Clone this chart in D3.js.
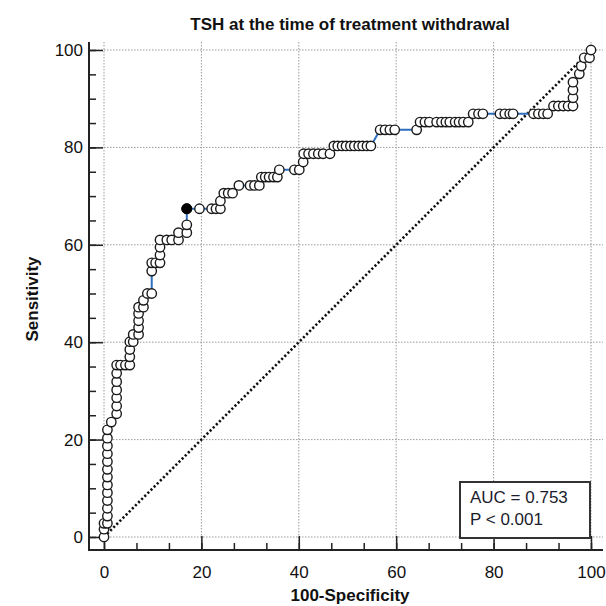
<!DOCTYPE html>
<html>
<head>
<meta charset="utf-8">
<script src="https://cdn.jsdelivr.net/npm/d3@7"></script>
<style>
	body { margin: 0; background: #fff; }
	text { font-family: 'Liberation Sans', Arial, sans-serif; }
</style>
</head>
<body>
<div class="chart"></div>
<script>
// ROC points (100-Specificity, Sensitivity)
const fpr = [0, 0, 0, 0.7, 0.7, 0.7, 0.7, 0.7, 0.7, 0.7, 0.7, 0.7, 0.7, 0.7, 0.7, 0.7,
	1.5, 2.6, 2.6, 2.6, 2.6, 2.6, 2.6, 2.6, 3.4, 4.4, 5.3, 5.3, 5.3, 5.3, 6.0, 6.0,
	7.1, 7.1, 7.1, 7.1, 7.1, 8.1, 8.1, 8.9, 9.8, 9.8, 9.8, 10.6, 11.5, 11.5, 11.5, 11.5,
	12.9, 13.9, 15.3, 15.3, 17.0, 17.0, 17.0, 19.6, 22.1, 23.0, 23.9, 23.9, 24.6, 25.5, 26.4,
	27.7, 30.0, 30.9, 31.9, 32.3, 33.1, 33.9, 34.8, 35.6, 36.0, 39.1, 40.1, 40.9,
	41.0, 42.0, 43.0, 44.0, 45.0, 46.4, 47.2, 48.0, 48.9, 49.7, 50.6, 51.4, 52.3, 53.1, 54.0, 54.8,
	56.7, 57.7, 58.7, 59.7, 64.2, 64.9, 65.9, 66.8, 68.3, 69.3, 70.2, 71.0, 72.1, 72.9, 73.8, 74.8,
	75.8, 76.9, 77.8, 81.3, 82.3, 83.3, 84.0, 88.2, 89.2, 90.2, 91.1,
	92.3, 93.3, 94.3, 95.3, 96.3, 96.3, 96.3, 96.3, 97.6, 98.0, 98.6, 99.7, 100]
const tpr = [0, 1.6, 2.8, 2.8, 4.3, 5.9, 7.5, 9.1, 10.7, 12.3, 13.9, 15.5, 17.1, 18.7, 20.3, 22.0,
	23.6, 25.3, 26.9, 28.6, 30.2, 31.9, 33.6, 35.3, 35.3, 35.3, 35.3, 37.0, 38.5, 40.1, 40.1, 41.6,
	41.6, 43.0, 44.4, 45.9, 47.2, 47.2, 48.6, 50.0, 50.0, 54.6, 56.3, 56.3, 56.3, 57.9, 59.5, 61.0,
	61.0, 61.0, 61.0, 62.5, 62.5, 64.1, 67.4, 67.4, 67.4, 67.4, 67.4, 69.0, 70.6, 70.6, 70.6,
	72.2, 72.2, 72.2, 72.2, 73.9, 73.9, 73.9, 73.9, 73.9, 75.4, 75.4, 75.4, 77.0,
	78.7, 78.7, 78.7, 78.7, 78.7, 78.7, 80.3, 80.3, 80.3, 80.3, 80.3, 80.3, 80.3, 80.3, 80.3, 80.3,
	83.6, 83.6, 83.6, 83.6, 83.6, 85.2, 85.2, 85.2, 85.2, 85.2, 85.2, 85.2, 85.2, 85.2, 85.2, 85.2,
	86.9, 86.9, 86.9, 86.9, 86.9, 86.9, 86.9, 86.9, 86.9, 86.9, 86.9,
	88.5, 88.5, 88.5, 88.5, 88.5, 90.2, 91.8, 93.4, 95.1, 96.7, 98.4, 98.4, 100]
// optimal criterion (filled marker)
const cutoff = [17.0, 67.4]

const title = 'TSH at the time of treatment withdrawal'
const xTitle = '100-Specificity'
const yTitle = 'Sensitivity'
const majorTicks = [0, 20, 40, 60, 80, 100]
const statLines = ['AUC = 0.753', 'P < 0.001']

const W = 606, H = 606
const frame = ({ left: 89, right: 603, top: 42, bottom: 550 })

const svg = d3.select('.chart')
	.append('svg')
	.attr('width', W)
	.attr('height', H)

const xScale = d3.scaleLinear().domain([0, 100]).range([104, 591])
const yScale = d3.scaleLinear().domain([0, 100]).range([537, 50])

// grid
svg.append('g')
	.selectAll('line')
	.data(majorTicks)
	.join('line')
	.attr('x1', d => xScale(d)).attr('x2', d => xScale(d))
	.attr('y1', frame.top).attr('y2', frame.bottom)
	.attr('stroke', '#9a9a9a')
	.attr('stroke-dasharray', '1.5 1.5')

svg.append('g')
	.selectAll('line')
	.data(majorTicks)
	.join('line')
	.attr('y1', d => yScale(d)).attr('y2', d => yScale(d))
	.attr('x1', frame.left).attr('x2', frame.right)
	.attr('stroke', '#9a9a9a')
	.attr('stroke-dasharray', '1.5 1.5')

// axes, ticks pointing inward
const xMinor = d3.range(0, 100.01, 20 / 3)
const yMinor = d3.range(0, 100.01, 5)

svg.append('g')
	.attr('transform', `translate(0,${frame.bottom})`)
	.call(d3.axisBottom(xScale).tickValues(xMinor).tickSize(-7).tickFormat(''))
	.call(g => g.select('.domain').remove())

svg.append('g')
	.attr('transform', `translate(${frame.left},0)`)
	.call(d3.axisLeft(yScale).tickValues(yMinor).tickSize(-7).tickFormat(''))
	.call(g => g.select('.domain').remove())

const xAxisGroup = svg.append('g')
	.attr('class', 'axis x-axis')
	.attr('transform', `translate(0,${frame.bottom})`)
	.call(d3.axisBottom(xScale).tickValues(majorTicks).tickSize(-14).tickPadding(16))
	.call(g => g.select('.domain').remove())

const yAxisGroup = svg.append('g')
	.attr('class', 'axis y-axis')
	.attr('transform', `translate(${frame.left},0)`)
	.call(d3.axisLeft(yScale).tickValues(majorTicks).tickSize(-14).tickPadding(6))
	.call(g => g.select('.domain').remove())

svg.selectAll('.tick line').attr('stroke', '#222').attr('stroke-width', 1.5)
svg.selectAll('.tick text')
	.attr('font-size', 17)
	.attr('font-family', "'Liberation Sans', Arial, sans-serif")
	.attr('fill', '#111')

// spines
svg.append('path')
	.attr('d', `M${frame.left},${frame.top}V${frame.bottom}H${frame.right}`)
	.attr('fill', 'none')
	.attr('stroke', '#222')
	.attr('stroke-width', 2)

// reference diagonal
svg.append('line')
	.attr('x1', xScale(0)).attr('y1', yScale(0))
	.attr('x2', xScale(100)).attr('y2', yScale(100))
	.attr('stroke', '#111')
	.attr('stroke-width', 2.6)
	.attr('stroke-dasharray', '2.2 2.2')

// ROC curve
const points = fpr.map((d, i) => ({ x: d, y: tpr[i] }))

svg.append('path')
	.datum(points)
	.attr('fill', 'none')
	.attr('stroke', '#2f6fbf')
	.attr('stroke-width', 2)
	.attr('d', d3.line().x(d => xScale(d.x)).y(d => yScale(d.y)))

svg.append('g')
	.selectAll('circle')
	.data(points)
	.join('circle')
	.attr('cx', d => xScale(d.x))
	.attr('cy', d => yScale(d.y))
	.attr('r', 4.7)
	.attr('fill', '#fff')
	.attr('stroke', '#1a1a1a')
	.attr('stroke-width', 1.4)

svg.append('circle')
	.attr('cx', xScale(cutoff[0]))
	.attr('cy', yScale(cutoff[1]))
	.attr('r', 5)
	.attr('fill', '#000')
	.attr('stroke', '#000')

// AUC box
const box = svg.append('g')
box.append('rect')
	.attr('x', 460).attr('y', 482)
	.attr('width', 130).attr('height', 56)
	.attr('fill', '#fff')
	.attr('stroke', '#333')
	.attr('stroke-width', 2)
box.selectAll('text')
	.data(statLines)
	.join('text')
	.attr('x', 470)
	.attr('y', (d, i) => 503 + i * 22)
	.attr('font-size', 17)
	.attr('fill', '#1c1c2c')
	.text(d => d)

// titles
svg.append('text')
	.attr('x', 350).attr('y', 30)
	.attr('text-anchor', 'middle')
	.attr('font-size', 17)
	.attr('font-weight', 'bold')
	.attr('fill', '#111')
	.text(title)

svg.append('text')
	.attr('x', 350).attr('y', 601)
	.attr('text-anchor', 'middle')
	.attr('font-size', 17)
	.attr('font-weight', 'bold')
	.attr('fill', '#111')
	.text(xTitle)

svg.append('text')
	.attr('transform', `translate(38,${(frame.top + frame.bottom) / 2 + 3}) rotate(-90)`)
	.attr('text-anchor', 'middle')
	.attr('font-size', 17)
	.attr('font-weight', 'bold')
	.attr('fill', '#111')
	.text(yTitle)
</script>
</body>
</html>
